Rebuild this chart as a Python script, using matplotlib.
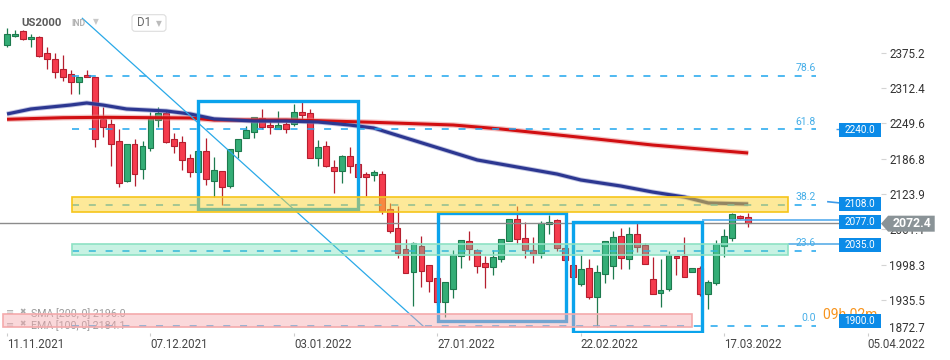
import numpy as np
import matplotlib.pyplot as plt
import matplotlib.colors as mcolors
from matplotlib.patches import Rectangle, Polygon, FancyBboxPatch
from matplotlib.transforms import Affine2D

plt.rcParams['font.family'] = ['Roboto', 'DejaVu Sans']

# daily bars of US2000, 11.11.2021 .. 22.03.2022
opens = [2388.3, 2405.4, 2414.6, 2399.5, 2402.5, 2374.1, 2363.4, 2345.6, 2336.7, 2323.6,
         2334.9, 2331.4, 2257.7, 2247.8, 2218.6, 2147.4, 2212.2, 2167.7, 2205.1, 2255.4,
         2267.3, 2221.6, 2215.7, 2187.3, 2163.4, 2200.3, 2147.4, 2164.7, 2138.5, 2200.8,
         2222.9, 2233.5, 2258.4, 2246.5, 2238.9, 2247.8, 2247.8, 2269.1, 2267.3, 2187.3,
         2209.2, 2171.3, 2165.2, 2191.4, 2177.1, 2158.8, 2158.1, 2159.4, 2096.6, 2062.8,
         2025.9, 1985.5, 2031.3, 1996.9, 1974.3, 1932.2, 1954.2, 2014.0, 2040.2, 2024.1,
         2000.5, 1993.4, 2008.7, 2040.7, 2078.8, 2045.0, 2024.1, 2018.3, 2070.4, 2077.5,
         2027.2, 1997.5, 1963.1, 1991.6, 1941.1, 1980.9, 1996.2, 2049.1, 2007.6, 2052.6,
         2033.0, 1972.6, 1947.1, 1954.2, 2013.5, 2013.5, 1985.5, 1991.6, 1945.3, 1964.9,
         2031.8, 2046.0, 2084.6, 2082.3]
highs = [2418.6, 2415.5, 2415.5, 2407.9, 2404.8, 2384.8, 2374.1, 2371.1, 2344.4, 2331.4,
         2344.4, 2332.5, 2278.0, 2256.7, 2239.9, 2212.2, 2221.6, 2218.6, 2269.1, 2278.0,
         2273.2, 2232.8, 2227.5, 2194.9, 2205.6, 2222.9, 2189.1, 2164.7, 2203.3, 2221.1,
         2244.7, 2260.2, 2275.0, 2254.2, 2271.4, 2251.3, 2283.9, 2288.0, 2274.5, 2219.8,
         2218.1, 2184.3, 2193.2, 2206.9, 2184.3, 2163.4, 2166.5, 2165.2, 2108.3, 2102.4,
         2043.7, 2037.9, 2049.1, 1996.9, 1988.6, 1966.7, 2024.1, 2041.9, 2058.5, 2025.4,
         2013.5, 2024.1, 2043.2, 2078.8, 2102.4, 2074.5, 2046.7, 2076.3, 2086.4, 2078.8,
         2030.0, 2002.8, 2015.3, 2008.1, 1997.5, 2040.2, 2058.5, 2062.8, 2065.6, 2071.7,
         2037.1, 2012.2, 2008.1, 2022.4, 2013.5, 2046.7, 1991.6, 1995.7, 1970.8, 2041.9,
         2061.0, 2089.4, 2086.4, 2090.5]
lows = [2384.8, 2402.5, 2397.7, 2384.8, 2367.0, 2345.6, 2329.6, 2325.3, 2301.7, 2301.7,
        2331.4, 2206.9, 2225.7, 2173.6, 2136.8, 2144.6, 2138.5, 2149.9, 2200.8, 2243.5,
        2215.0, 2196.2, 2166.5, 2153.5, 2157.6, 2139.8, 2119.0, 2104.2, 2135.0, 2187.3,
        2222.9, 2222.9, 2239.4, 2230.0, 2238.9, 2231.8, 2244.7, 2251.3, 2187.3, 2173.6,
        2171.3, 2126.1, 2143.9, 2161.7, 2148.7, 2120.2, 2147.4, 2088.2, 2054.9, 2010.5,
        1982.7, 1925.1, 1958.9, 1950.0, 1926.3, 1905.5, 1939.3, 1992.7, 2006.4, 1983.8,
        1957.1, 1979.7, 2003.3, 2040.7, 2034.8, 2010.5, 2001.6, 2010.5, 2052.6, 2022.9,
        2005.1, 1974.3, 1960.1, 1937.0, 1887.7, 1966.0, 1972.0, 1990.3, 1990.3, 2021.1,
        1998.7, 1945.3, 1923.3, 1951.2, 1979.7, 1976.7, 1985.5, 1942.3, 1918.7, 1961.9,
        2012.2, 2040.7, 2079.3, 2065.6]
closes = [2408.4, 2408.4, 2399.0, 2402.5, 2369.3, 2363.4, 2340.3, 2332.5, 2323.6, 2331.4,
          2331.4, 2221.6, 2242.4, 2212.2, 2142.8, 2212.2, 2158.8, 2208.6, 2261.3, 2268.4,
          2216.8, 2209.7, 2183.7, 2163.4, 2200.3, 2149.9, 2166.5, 2136.8, 2203.3, 2221.1,
          2237.1, 2260.2, 2243.5, 2242.4, 2246.5, 2239.9, 2269.1, 2264.8, 2187.3, 2206.9,
          2174.1, 2165.2, 2191.4, 2174.1, 2154.5, 2154.5, 2162.9, 2094.1, 2058.5, 2018.3,
          1982.7, 2036.1, 1987.3, 1968.5, 1931.6, 1966.7, 2015.3, 2041.9, 2025.4, 1996.2,
          1994.4, 2011.2, 2043.2, 2078.8, 2044.3, 2024.1, 2017.6, 2071.7, 2074.0, 2027.2,
          2006.4, 1976.7, 1989.8, 1940.0, 1984.5, 2040.2, 2046.7, 2009.4, 2052.6, 2030.0,
          1998.7, 1945.3, 1953.0, 2015.3, 2009.4, 1976.7, 1991.6, 1945.3, 1966.7, 2034.3,
          2049.1, 2087.7, 2080.5, 2072.4]

# moving averages, vertices read at these bar numbers
sma_bars = [0, 7, 12, 23, 26, 35, 39, 46, 56, 62, 68, 74, 81, 87, 93]
sma_vals = [2256.7, 2259.5, 2260.2, 2259.0, 2255.4, 2255.4, 2254.2, 2251.3, 2246.5,
            2239.4, 2230.5, 2221.6, 2210.9, 2203.8, 2196.7]
ema_bars = [0, 3, 8, 10, 12, 15, 20, 23, 26, 31, 35, 39, 43, 46, 59, 69, 72, 77, 81, 85, 88, 93]
ema_vals = [2266.1, 2275.0, 2282.1, 2285.7, 2282.1, 2275.0, 2271.4, 2266.1, 2257.2, 2253.6,
            2253.6, 2251.9, 2246.5, 2241.2, 2184.3, 2159.3, 2148.7, 2138.0, 2127.3, 2118.4,
            2107.8, 2106.0]

# fibonacci retracement
fib_low, fib_high = 1888.8, 2455.0
fib_ratios = [0.0, 23.6, 38.2, 61.8, 78.6]

# zones (bar from, bar to, price from, price to)
yellow_zone = (8.2, 98.0, 2091.0, 2118.0)
green_zone = (8.2, 98.0, 2015.0, 2034.0)
pink_zone = (-0.5, 86.0, 1887.0, 1910.0)
boxes = [(24.0, 44.1, 2096.5, 2289.0), (54.1, 70.1, 1897.8, 2090.5), (71.05, 87.2, 1878.8, 2074.5)]
trend = ([9.45, 52.2], [2436.3, 1888.9])

tags = [2240.0, 2108.0, 2077.0, 2035.0, 1900.0]
last_price = 2072.4

yticks = [2375.2, 2312.4, 2249.6, 2186.8, 2123.9, 2061.1, 1998.3, 1935.5]
xtick_bars = [0, 18, 36, 54, 72, 90, 108]
xtick_labels = ["11.11.2021", "07.12.2021", "03.01.2022", "27.01.2022",
                "22.02.2022", "17.03.2022", "05.04.2022"]

green, green_edge = '#34ad76', '#1d7a4e'
red, red_edge = '#f53b4d', '#b51f2f'
blue = '#0aa3ec'

W, H = 950, 360
fig = plt.figure(figsize=(W / 100, H / 100), dpi=100)
fig.patch.set_facecolor('white')
pix = Affine2D().scale(1, -1).translate(0, H)   # pixel coords, y from top

ax = fig.add_axes([0, 1 - 333 / H, 881 / W, 333 / H])
ax.set_xlim(-0.88, 109.66)
ax.set_ylim(1876.5, 2468.9)
for s in ax.spines.values():
    s.set_visible(False)
ppx = (2468.9 - 1876.5) / 333.0   # price per pixel

# candles
o, hi, lo, c = map(np.array, (opens, highs, lows, closes))
x = np.arange(len(o))
up = c >= o
bot = np.minimum(o, c)
hgt = np.maximum(np.abs(c - o), 1.2)
for m, fc, ec in ((up, green, green_edge), (~up, red, red_edge)):
    ax.vlines(x[m], lo[m], hi[m], color=ec, lw=0.9, zorder=2)
    ax.bar(x[m], hgt[m], bottom=bot[m], width=0.74, color=fc, edgecolor=ec,
           linewidth=0.8, zorder=2.1)

# moving averages
ax.plot(sma_bars, sma_vals, color='#e88a8a', lw=4.0, alpha=0.5, zorder=3, solid_capstyle='butt')
ax.plot(sma_bars, sma_vals, color='#d10f12', lw=2.2, zorder=3.1, solid_capstyle='butt')
ax.plot(ema_bars, ema_vals, color='#8088c4', lw=3.6, alpha=0.5, zorder=3, solid_capstyle='butt')
ax.plot(ema_bars, ema_vals, color='#2c3791', lw=2.3, zorder=3.1, solid_capstyle='butt')

# fib levels
fib_prices = [fib_low + r / 100 * (fib_high - fib_low) for r in fib_ratios]
ax.hlines(fib_prices, 8.16, 101.5, colors='#1ea5ee', linestyles=(0, (4.6, 6.4)), lw=1.1, zorder=3.3)
for r, p in zip(fib_ratios, fib_prices):
    ax.annotate(f"{r:.1f}", xy=(101.5, p), xytext=(0, 2), textcoords='offset points',
                ha='right', va='bottom', fontsize=7.5, color='#45aee8', zorder=6)

# trend line and price lines
ax.plot(*trend, color='#2aa9e8', lw=0.9, zorder=3.4)
ax.axhline(last_price, color='#8c8c8c', lw=1.0, zorder=3.6)
ax.hlines(2077.0, 87.2, 104.4, color='#4aa6ec', lw=1.3, alpha=0.85, zorder=3.6)
ax.hlines(2035.0, 98.0, 104.4, color='#5aaee8', lw=1.2, zorder=3.6)
ax.plot([103.0, 104.4], [2110.0, 2108.0], color='#3d9be9', lw=1.2, zorder=3.6)
ax.hlines(2240.0, 104.0, 104.4, color='#3d9be9', lw=1.0, zorder=3.6)

# blue boxes
for b0, b1, p0, p1 in boxes:
    ax.add_patch(Rectangle((b0, p0), b1 - b0, p1 - p0, fill=False, edgecolor=blue,
                           lw=2.4, zorder=4))

# legend text (under the pink zone)
for txt, yy in (("SMA [200, 0] 2196.0", 313.3), ("EMA [100, 0] 2184.1", 325.7)):
    ax.text(10, yy - 1, "≡", transform=pix, fontsize=7, color='#a8a8a8', va='center',
            ha='center', clip_on=False, zorder=4.5)
    ax.text(23, yy - 1, "✖", transform=pix, fontsize=5.5, color='#a8a8a8', va='center',
            ha='center', clip_on=False, zorder=4.5)
    ax.text(31, yy, txt, transform=pix, fontsize=7.7, color='#999999', va='center',
            clip_on=False, zorder=4.5)

# zones
for (b0, b1, p0, p1), fc, a, ec in ((yellow_zone, '#fcd535', 0.5, '#f6c51a'),
                                     (green_zone, '#5fdcb0', 0.35, '#8ee2c4'),
                                     (pink_zone, '#f6a9ae', 0.45, '#f4aaac')):
    ax.add_patch(Rectangle((b0, p0), b1 - b0, p1 - p0, facecolor=mcolors.to_rgba(fc, a),
                           edgecolor=ec, lw=1.2, zorder=5))

# countdown (partly hidden behind the 1900.0 tag, as on the platform)
ax.text(823, 315, "09h 02m", transform=pix, fontsize=10, color='#f7941d', va='center',
        clip_on=False, zorder=6)

# price tags
hp = 7 * ppx
for p in tags:
    yc = p - 1.5 * ppx
    ax.add_patch(Rectangle((104.4, yc - hp), 5.26, 2 * hp, facecolor='#0b8be8',
                           edgecolor='none', zorder=7, clip_on=False))
    ax.text(107.0, yc, f"{p:.1f}", fontsize=7.2, color='white', ha='center', va='center',
            zorder=8, clip_on=False)

gh = 8 * ppx
yc = last_price - 0.8 * ppx
ax.add_patch(Polygon([(109.66, yc), (110.55, yc + gh), (116.4, yc + gh), (116.4, yc - gh),
                      (110.55, yc - gh)], closed=True, facecolor='#8a9397',
                     edgecolor='none', zorder=9, clip_on=False))
ax.text(113.5, yc, f"{last_price:.1f}", fontsize=8.8, fontweight='bold', color='white',
        ha='center', va='center', zorder=10, clip_on=False)

# axes
ax.yaxis.tick_right()
ax.set_yticks(yticks)
ax.set_yticklabels([f"{v:.1f}" for v in yticks])
ax.tick_params(axis='y', length=3.6, width=0.8, color='#d4d4d4', pad=2.2,
               labelsize=8.4, labelcolor='#333333')
ax.text(889, 329, "1872.7", transform=pix, fontsize=8.4, color='#333333', va='center',
        clip_on=False, zorder=1)
ax.set_xticks(xtick_bars)
ax.set_xticklabels(xtick_labels)
for lbl in ax.get_xticklabels():
    lbl.set_ha('left')
ax.tick_params(axis='x', length=2.5, width=0.8, color='#cccccc', pad=0.8,
               labelsize=8.3, labelcolor='#444444')

# header
fig.text(21, 23, "US2000", transform=pix, fontsize=8.2, fontweight='bold', color='#5a5a5a', va='center')
fig.text(71, 24, "IND", transform=pix, fontsize=6.3, fontweight='bold', color='#b3b3b3', va='center')
fig.text(95.5, 22, "▼", transform=pix, fontsize=5.5, color='#c8c8c8', ha='center', va='center')
fig.patches.append(FancyBboxPatch((132, 14.7), 34, 16.6, boxstyle='round,pad=0,rounding_size=3',
                                  transform=pix, facecolor='white', edgecolor='#dddddd', lw=0.8))
fig.text(137, 23, "D1", transform=pix, fontsize=8.3, color='#666666', va='center')
fig.text(159, 23.5, "▼", transform=pix, fontsize=5.5, color='#bbbbbb', ha='center', va='center')

fig.savefig("out.png", dpi=100)
